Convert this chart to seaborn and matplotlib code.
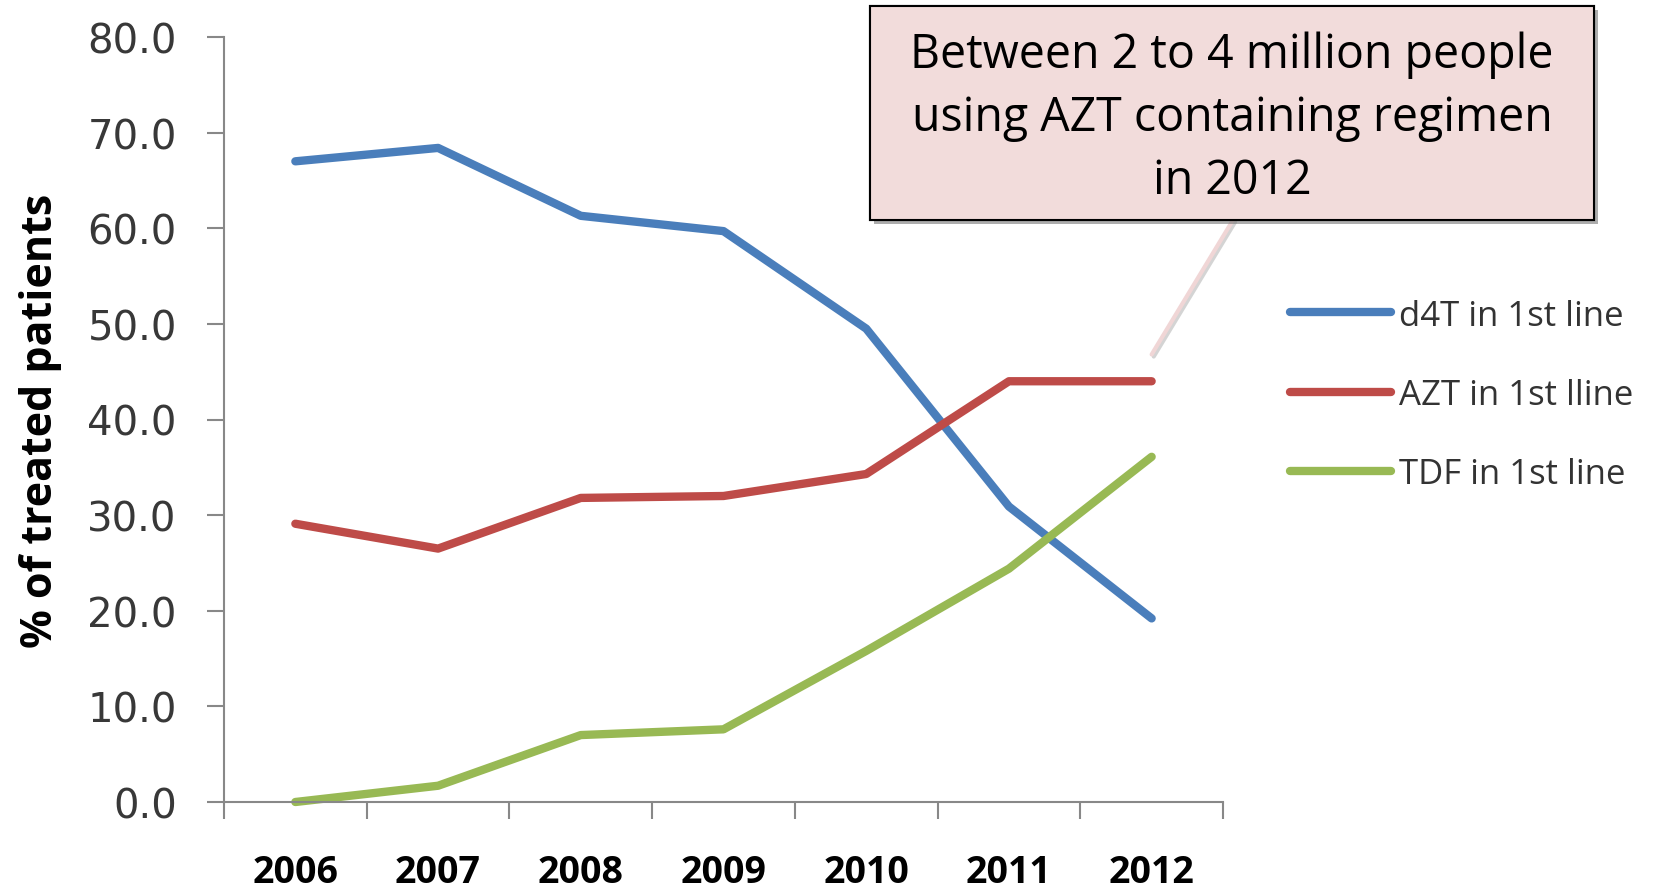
"""
First-line ARV regimen share, 2006-2012
Flow: small arrays -> long frame -> seaborn lineplot -> Excel-style cosmetics -> out.png
"""

import numpy as np
import pandas as pd
import matplotlib
matplotlib.use("Agg")
import matplotlib.pyplot as plt
import matplotlib.patheffects as pe
from matplotlib.patches import Rectangle
import seaborn as sns


# =============================================================================
# DATA
# =============================================================================
YEARS = ["2006", "2007", "2008", "2009", "2010", "2011", "2012"]
D4T = [67.0, 68.4, 61.3, 59.7, 49.5, 30.9, 19.2]
AZT = [29.1, 26.5, 31.8, 32.0, 34.3, 44.0, 44.0]
TDF = [0.0, 1.7, 7.0, 7.6, 15.8, 24.4, 36.1]
SERIES = ["d4T in 1st line", "AZT in 1st lline", "TDF in 1st line"]
COLORS = ["#4A7EBB", "#BE4B48", "#98B954"]
Y_TICKS = [0, 10, 20, 30, 40, 50, 60, 70, 80]
NOTE = "Between 2 to 4 million people\nusing AZT containing regimen\nin 2012"


# =============================================================================
# PLOT
# =============================================================================
def main():
    pos = np.arange(len(YEARS))
    df = pd.concat([
        pd.DataFrame({"pos": pos, "value": vals, "regimen": name})
        for name, vals in zip(SERIES, [D4T, AZT, TDF])
    ], ignore_index=True)

    sns.set_style("white")
    plt.rcParams["font.family"] = ["DejaVu Sans"]

    W, H = 1663, 895
    fig = plt.figure(figsize=(W / 100, H / 100), dpi=100)
    ax = fig.add_axes([224 / W, 1 - 803 / H, 999 / W, 765 / H])

    sns.lineplot(data=df, x="pos", y="value", hue="regimen", hue_order=SERIES,
                 palette=COLORS, linewidth=6, legend=False, ax=ax)
    for ln in ax.lines:
        ln.set_solid_capstyle("round")
        ln.set_solid_joinstyle("round")
        ln.set_clip_on(False)

    # axes: Excel category axis with ticks between categories
    ax.set_xlim(-0.5, len(YEARS) - 0.5)
    ax.set_ylim(0, 80)
    ax.set_xticks(np.arange(-0.5, len(YEARS)), labels=[])
    ax.set_xticks(pos, labels=YEARS, minor=True)
    ax.tick_params(axis="x", which="major", bottom=True, length=12, width=1.5,
                   color="#888888")
    ax.tick_params(axis="x", which="minor", bottom=True, length=0, pad=37)
    for t in ax.get_xticklabels(minor=True):
        t.set_fontfamily("Open Sans")
        t.set_fontweight("bold")
        t.set_fontsize(27)
        t.set_color("black")

    ax.set_yticks(Y_TICKS, labels=[f"{v:.1f}" for v in Y_TICKS])
    ax.tick_params(axis="y", left=True, length=12, width=1.5, color="#888888", pad=22,
                   labelsize=29, labelcolor="#383838")

    for side in ["top", "right"]:
        ax.spines[side].set_visible(False)
    for side in ["left", "bottom"]:
        ax.spines[side].set_color("#888888")
        ax.spines[side].set_linewidth(1.5)

    ax.set_xlabel("")
    ax.set_ylabel("% of treated patients", fontfamily="Open Sans",
                  fontweight="bold", fontsize=31, color="black")
    ax.yaxis.set_label_coords(-0.1625, 0.5)

    # legend
    ax.legend(ax.lines, SERIES, loc="center left",
              bbox_to_anchor=(1290 / W, 1 - 396 / H), bbox_transform=fig.transFigure,
              frameon=False, handlelength=2.9, handletextpad=0.25, labelspacing=1.31,
              borderpad=0, borderaxespad=0,
              prop={"family": "Open Sans", "size": 25})
    for t in ax.get_legend().get_texts():
        t.set_color("#333333")

    # callout box with connector
    shadow = [pe.withSimplePatchShadow(offset=(3, -3), shadow_rgbFace="#777777", alpha=0.6),
              pe.Normal()]
    box = Rectangle((870 / W, 1 - 221 / H), 724 / W, 214 / H, transform=fig.transFigure,
                    facecolor="#F2DCDB", edgecolor="black", linewidth=1.5, zorder=5)
    box.set_path_effects(shadow)
    ax.annotate("", xy=(len(YEARS) - 1, 46.8), xycoords="data",
                xytext=(1233 / W, 1 - 221 / H), textcoords="figure fraction",
                arrowprops=dict(arrowstyle="-", color="#F0D6D6", lw=3,
                                shrinkA=0, shrinkB=0,
                                path_effects=[pe.SimpleLineShadow(offset=(1.5, -1.5),
                                                                  shadow_color="#aaaaaa",
                                                                  alpha=0.5),
                                              pe.Normal()]),
                annotation_clip=False, zorder=4)
    fig.patches.append(box)
    fig.text(1232 / W, 1 - 118 / H, NOTE, ha="center", va="center",
             fontfamily="Open Sans", fontsize=33.5, linespacing=1.43, color="black",
             zorder=6)

    fig.savefig("out.png", dpi=100)
    plt.close(fig)


if __name__ == "__main__":
    main()
